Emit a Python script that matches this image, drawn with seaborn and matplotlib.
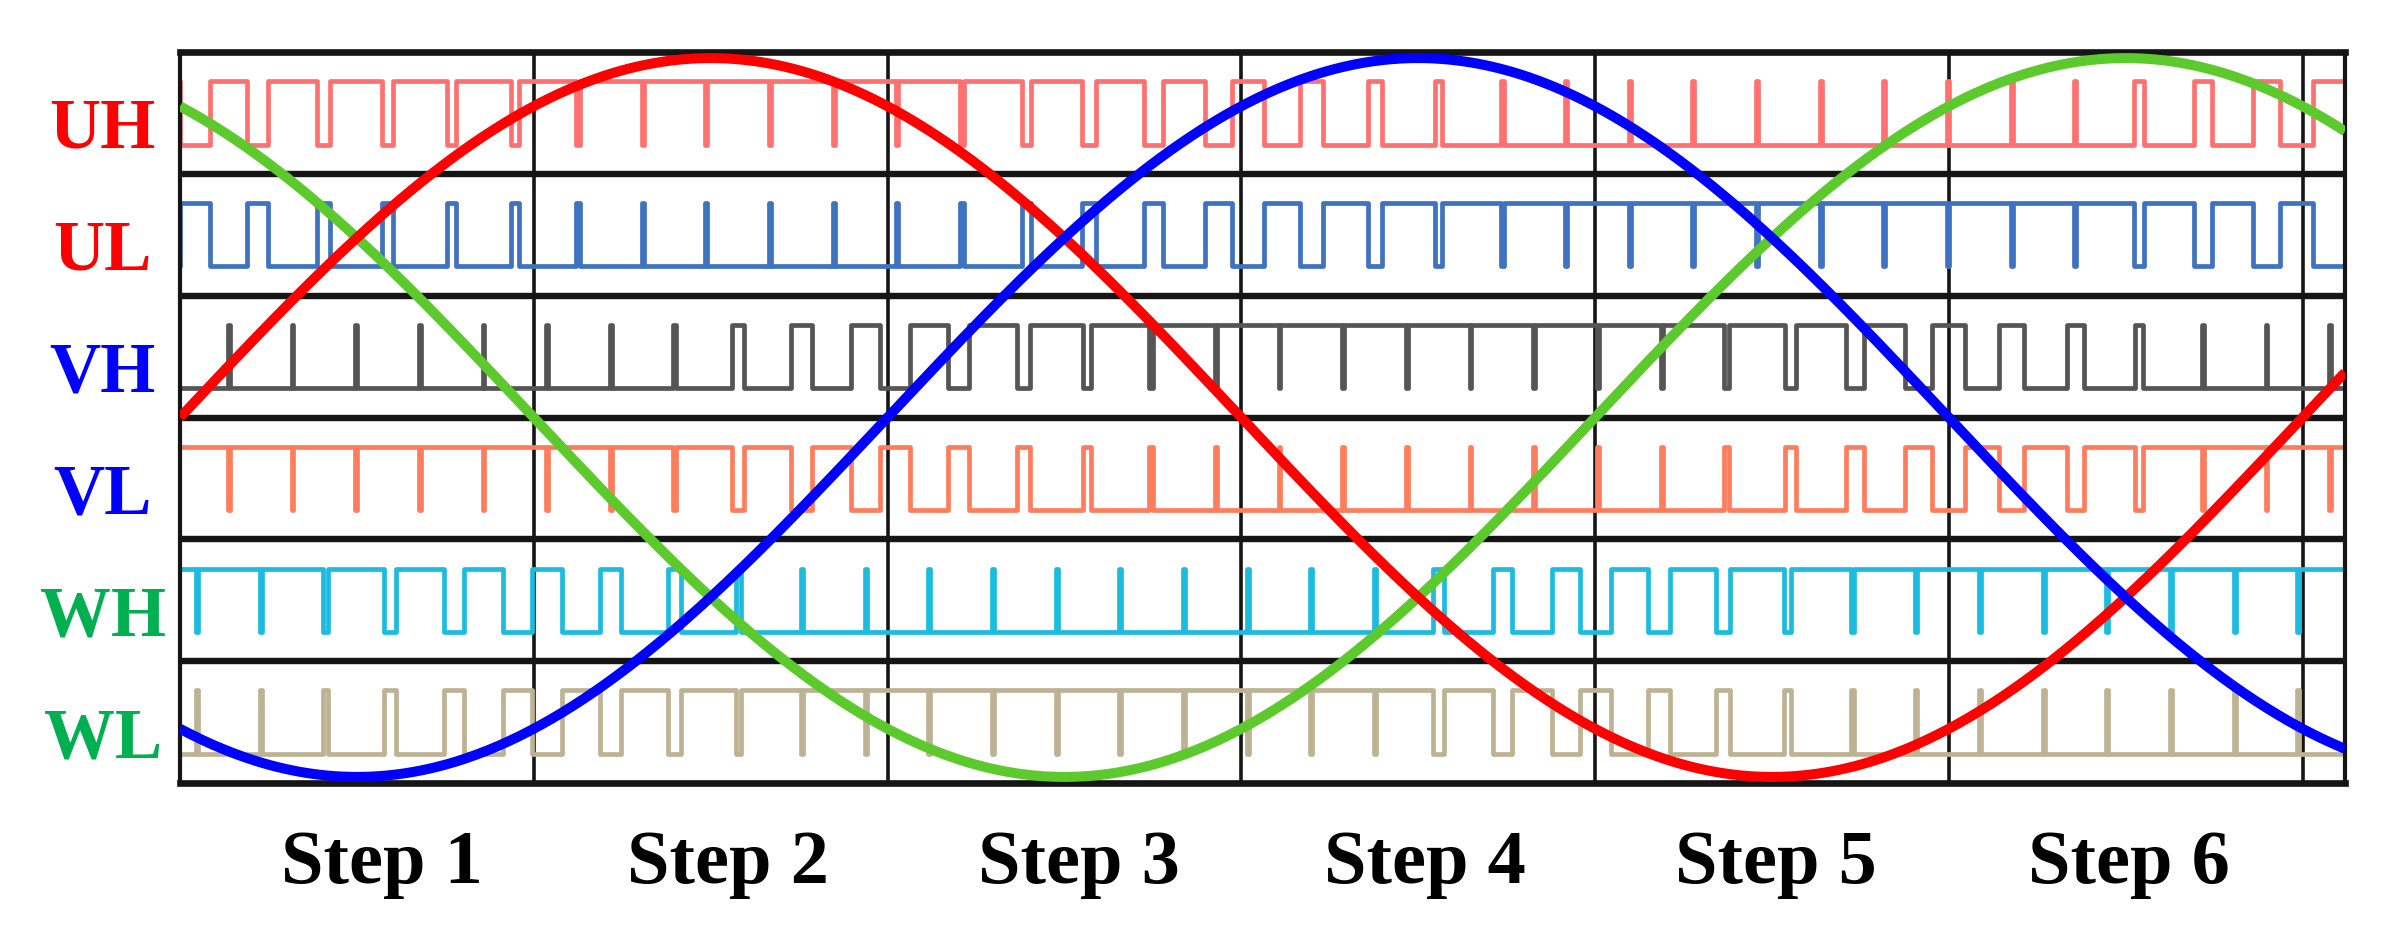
import numpy as np
import pandas as pd
import matplotlib
matplotlib.use("Agg")
import matplotlib.pyplot as plt
import seaborn as sns

# ---------------- data ----------------
ROW_LABELS = ["UH", "UL", "VH", "VL", "WH", "WL"]
STEP_LABELS = ["Step 1", "Step 2", "Step 3", "Step 4", "Step 5", "Step 6"]

# fraction of each PWM period during which the signal is high (periods j = 0..34)
UH_HIGH = [0.47, 0.58, 0.76, 0.82, 0.85, 0.87, 0.90, 0.97, 0.97, 0.97, 0.97, 0.97,
           0.97, 0.90, 0.80, 0.76, 0.66, 0.50, 0.36, 0.22, 0.12, 0.05, 0.03, 0.03,
           0.03, 0.03, 0.03, 0.03, 0.03, 0.03, 0.03, 0.15, 0.29, 0.42, 0.55]
UL_HIGH = [0.53, 0.42, 0.24, 0.18, 0.15, 0.13, 0.10, 0.03, 0.03, 0.03, 0.03, 0.03,
           0.03, 0.10, 0.20, 0.24, 0.34, 0.50, 0.64, 0.78, 0.88, 0.95, 0.97, 0.97,
           0.97, 0.97, 0.97, 0.97, 0.97, 0.97, 0.97, 0.85, 0.71, 0.58, 0.45]
VH_HIGH = [0.03, 0.03, 0.03, 0.03, 0.03, 0.03, 0.03, 0.03, 0.05, 0.19, 0.33, 0.45,
           0.60, 0.75, 0.84, 0.91, 0.97, 0.97, 0.97, 0.97, 0.97, 0.97, 0.97, 0.97,
           0.96, 0.89, 0.78, 0.64, 0.52, 0.40, 0.26, 0.12, 0.04, 0.03, 0.03]
VL_HIGH = [0.97, 0.97, 0.97, 0.97, 0.97, 0.97, 0.97, 0.97, 0.95, 0.81, 0.67, 0.55,
           0.40, 0.25, 0.16, 0.09, 0.03, 0.03, 0.03, 0.03, 0.03, 0.03, 0.03, 0.03,
           0.04, 0.11, 0.22, 0.36, 0.48, 0.60, 0.74, 0.88, 0.96, 0.97, 0.97]
WH_HIGH = [0.97, 0.97, 0.95, 0.87, 0.75, 0.61, 0.47, 0.33, 0.20, 0.08, 0.03, 0.03,
           0.03, 0.03, 0.03, 0.03, 0.03, 0.03, 0.03, 0.04, 0.17, 0.30, 0.44, 0.58,
           0.72, 0.85, 0.94, 0.97, 0.97, 0.97, 0.97, 0.97, 0.97, 0.97, 0.97]
WL_HIGH = [0.03, 0.03, 0.05, 0.13, 0.25, 0.39, 0.53, 0.67, 0.80, 0.92, 0.97, 0.97,
           0.97, 0.97, 0.97, 0.97, 0.97, 0.97, 0.97, 0.96, 0.83, 0.70, 0.56, 0.42,
           0.28, 0.15, 0.06, 0.03, 0.03, 0.03, 0.03, 0.03, 0.03, 0.03, 0.03]
ROW_HIGH = [UH_HIGH, UL_HIGH, VH_HIGH, VL_HIGH, WH_HIGH, WL_HIGH]
# H rows: high pulse centred in the period; L rows: high pulse centred on the period edge
ROW_KIND = ["H", "L", "H", "L", "H", "L"]

# three phase reference sine waves: phase lag in steps (one cycle = 6 steps)
PHASES = ["U", "V", "W"]
PHASE_LAG_STEPS = [0.0, 2.0, 4.0]

# ---------------- styling / layout ----------------
LABEL_COLORS = ["#FF0000", "#FF0000", "#0000FF", "#0000FF", "#00B050", "#00B050"]
TRACE_COLORS = ["#FF7070", "#3F72C0", "#555555", "#FF7D5C", "#1DBBDF", "#BDB394"]
PHASE_COLORS = ["#FF0000", "#0000FF", "#5CC92C"]
PWM_PERIOD = 0.18          # in steps
PWM_FIRST_EDGE = 0.048     # first period boundary, in steps
X_END = 6.12
HI_LEVEL, LO_LEVEL = 0.76, 0.24
SINE_AMP = 2.95
STEP_LABEL_X = [0.57, 1.55, 2.54, 3.52, 4.51, 5.51]

sns.set_theme(style="white")
plt.rcParams["font.family"] = ["Liberation Serif", "DejaVu Serif"]

fig = plt.figure(figsize=(23.83, 9.43), dpi=100)
ax = fig.add_axes([0.07553, 0.16967, 0.90852, 0.77518])

# ---------------- PWM traces ----------------
for i, (highs, kind) in enumerate(zip(ROW_HIGH, ROW_KIND)):
    base = 5 - i
    lo, hi = base + LO_LEVEL, base + HI_LEVEL
    ts, ys = [], []
    for j, h in enumerate(highs):
        c = PWM_FIRST_EDGE + PWM_PERIOD * (j - 0.5)
        left, right = c - PWM_PERIOD / 2, c + PWM_PERIOD / 2
        if kind == "H":
            w = h * PWM_PERIOD / 2
            ts += [left, c - w, c - w, c + w, c + w, right]
            ys += [lo, lo, hi, hi, lo, lo]
        else:
            w = (1 - h) * PWM_PERIOD / 2
            ts += [left, c - w, c - w, c + w, c + w, right]
            ys += [hi, hi, lo, lo, hi, hi]
    df = pd.DataFrame({"t": ts, "y": ys})
    sns.lineplot(data=df, x="t", y="y", sort=False, estimator=None, ax=ax,
                 color=TRACE_COLORS[i], linewidth=3.4, zorder=2,
                 solid_joinstyle="round", solid_capstyle="round")

# ---------------- sine references ----------------
t = np.linspace(0, X_END, 600)
frames = []
for name, lag in zip(PHASES, PHASE_LAG_STEPS):
    frames.append(pd.DataFrame({"t": t,
                                "y": 3 + SINE_AMP * np.sin(2 * np.pi * (t - lag) / 6),
                                "phase": name}))
sdf = pd.concat(frames, ignore_index=True)
for name, col, z in [("W", PHASE_COLORS[2], 3), ("U", PHASE_COLORS[0], 4), ("V", PHASE_COLORS[1], 5)]:
    sns.lineplot(data=sdf[sdf["phase"] == name], x="t", y="y", sort=False,
                 estimator=None, ax=ax, color=col, linewidth=7.2, zorder=z,
                 solid_capstyle="butt")

# ---------------- grid / frame ----------------
for yv in range(1, 6):
    ax.axhline(yv, color="#151515", lw=4.6, zorder=1)
for xv in range(1, 7):
    ax.axvline(xv, color="#151515", lw=2.6, zorder=1)
ax.set_xlim(0, X_END)
ax.set_ylim(0, 6)
for side in ["top", "bottom"]:
    ax.spines[side].set_linewidth(4.8)
    ax.spines[side].set_color("#151515")
for side in ["left", "right"]:
    ax.spines[side].set_linewidth(3.0)
    ax.spines[side].set_color("#151515")
ax.set_xticks([])
ax.set_yticks([])
ax.set_xlabel("")
ax.set_ylabel("")

# ---------------- labels ----------------
for i, lab in enumerate(ROW_LABELS):
    ax.text(-0.218, 5.5 - i - 0.287, lab, ha="center", va="baseline",
            fontsize=51, fontweight="bold", color=LABEL_COLORS[i], clip_on=False)
for x, lab in zip(STEP_LABEL_X, STEP_LABELS):
    ax.text(x, -0.82, lab, ha="center", va="baseline", fontsize=55,
            fontweight="bold", color="black", clip_on=False)

fig.savefig("out.png", dpi=100, facecolor="white")
